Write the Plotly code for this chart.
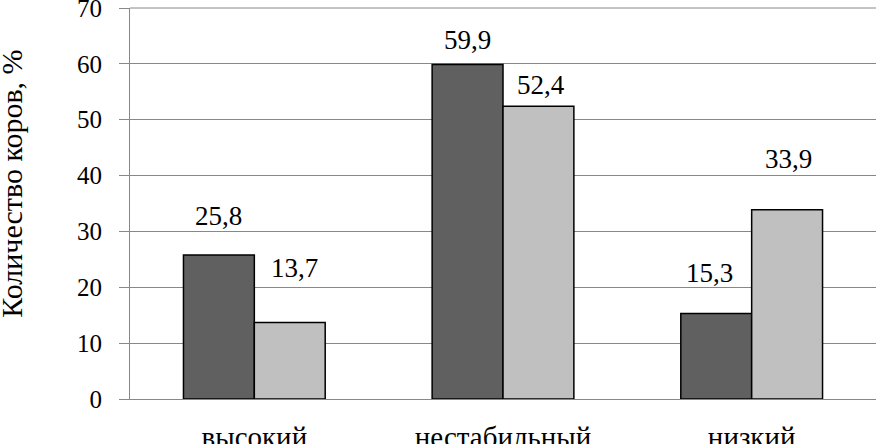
import plotly.graph_objects as go

categories = ["высокий", "нестабильный", "низкий"]
series_a = [25.8, 59.9, 15.3]
series_b = [13.7, 52.4, 33.9]
labels_a = ["25,8", "59,9", "15,3"]
labels_b = ["13,7", "52,4", "33,9"]
y_ticks = [0, 10, 20, 30, 40, 50, 60, 70]

FONT = "Times New Roman, Liberation Serif, DejaVu Serif, serif"
GRID = "#888888"

fig = go.Figure()
fig.add_trace(go.Bar(x=categories, y=series_a, marker=dict(color="#606060", line=dict(color="black", width=1.5)),
                     showlegend=False, hoverinfo="skip"))
fig.add_trace(go.Bar(x=categories, y=series_b, marker=dict(color="#c0c0c0", line=dict(color="black", width=1.5)),
                     showlegend=False, hoverinfo="skip"))

# label placement offsets (pixels), as in the reference
a_shift = [(0, 39), (0, 24), (-7, 41)]
b_shift = [(5, 54), (2, 21), (1, 51)]
for i, c in enumerate(categories):
    fig.add_annotation(x=c, y=series_a[i], text=labels_a[i], showarrow=False, xshift=-35.5 + a_shift[i][0],
                       yshift=a_shift[i][1], font=dict(family=FONT, size=27, color="black"))
    fig.add_annotation(x=c, y=series_b[i], text=labels_b[i], showarrow=False, xshift=35.5 + b_shift[i][0],
                       yshift=b_shift[i][1], font=dict(family=FONT, size=27, color="black"))

fig.add_annotation(xref="paper", yref="paper", x=-0.184, y=0.551, text="Количество коров, %", textangle=-90,
                   showarrow=False, font=dict(family=FONT, size=30, color="black"))

fig.update_layout(
    width=877, height=444,
    margin=dict(l=130, r=1, t=8, b=45, autoexpand=False),
    paper_bgcolor="white", plot_bgcolor="white",
    barmode="group", bargap=0.43, bargroupgap=0,
    font=dict(family=FONT, size=25, color="black"),
)
fig.update_yaxes(range=[0, 70], tickvals=y_ticks, showgrid=True, gridcolor=GRID, gridwidth=1,
                 showline=True, linecolor=GRID, linewidth=1, ticks="outside", ticklen=10,
                 tickcolor=GRID, ticklabelstandoff=12, zeroline=False, automargin=False,
                 ticklabeloverflow="allow", tickfont=dict(size=25))
fig.update_xaxes(showline=True, linecolor=GRID, linewidth=1, ticks="", ticklabelstandoff=12,
                 automargin=False, ticklabeloverflow="allow", tickfont=dict(size=29))
fig.add_shape(type="line", xref="paper", yref="paper", x0=0, x1=1, y0=1, y1=1,
              line=dict(color=GRID, width=1), layer="below")

fig.write_html("out.html", config={"displayModeBar": False},
               post_script="document.body.style.margin='0';document.body.style.overflow='hidden';")
